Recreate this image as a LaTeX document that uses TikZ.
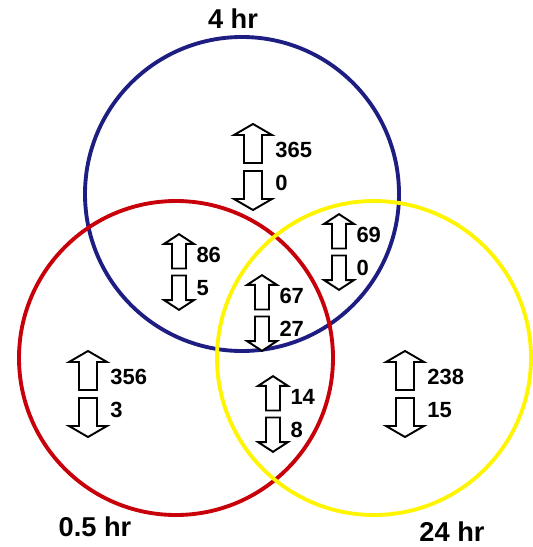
\documentclass[tikz,border=0pt]{standalone}
\usepackage{fontspec}
\setmainfont{Liberation Sans}
\usepackage{tikz}
\usetikzlibrary{positioning}

\definecolor{navyring}{RGB}{30,30,130}
\definecolor{redring}{RGB}{200,0,10}
\definecolor{yellowring}{RGB}{255,245,0}

\begin{document}
\begin{tikzpicture}[x=0.02cm,y=-0.02cm,line cap=round,line join=round,
        ring/.style={line width=2.2pt},
        count/.style={font=\bfseries\fontsize{12.5}{14}\selectfont,anchor=west,inner sep=0pt},
        timetag/.style={font=\bfseries\fontsize{15.5}{18}\selectfont,inner sep=0pt},
        blockarrow/.style={draw=black,line width=1.1pt,line join=miter,fill=white}]
        \useasboundingbox (0,0) rectangle (532,547);

        \coordinate (Cb) at (242, 194);
        \coordinate (Cr) at (176, 358);
        \coordinate (Cy) at (374, 358);

        \draw[ring, draw=navyring] (Cb) circle[radius=157];
        \draw[ring, draw=redring] (Cr) circle[radius=157];
        \draw[ring, draw=yellowring] (Cy) circle[radius=157];

        \node[timetag] (t4) at (233, 19) {4 hr};
        \node[timetag] (t05) at (95, 527) {0.5 hr};
        \node[timetag] (t24) at (452, 532) {24 hr};

        % up / down counts in each region
        \foreach \nm/\px/\py/\sx/\sy/\up/\dn in {a/253/167/1/1/365/0, b/179/272/0.78/0.88/86/5,
                c/339/252/0.78/0.88/69/0, d/262/313/0.78/0.88/67/27, e/88/394/1/1/356/3,
                f/273/414/0.78/0.88/14/8, g/405/394/1/1/238/15} {
            \coordinate (g\nm) at (\px, \py);
            \draw[blockarrow, shift={(g\nm)}, xscale=\sx, yscale=\sy] (-9,-4) -- (-9,-32)
                -- (-19,-32) -- (0,-43) -- (19,-32) -- (9,-32) -- (9,-4) -- cycle;
            \draw[blockarrow, shift={(g\nm)}, xscale=\sx, yscale=\sy] (-9,4) -- (-9,32)
                -- (-19,32) -- (0,43) -- (19,32) -- (9,32) -- (9,4) -- cycle;
            \node[count] (up\nm) at ([shift={(22*\sx,-17)}]g\nm) {\up};
            \node[count] (dn\nm) at ([shift={(22*\sx,16)}]g\nm) {\dn};
        }
    \end{tikzpicture}
\end{document}
